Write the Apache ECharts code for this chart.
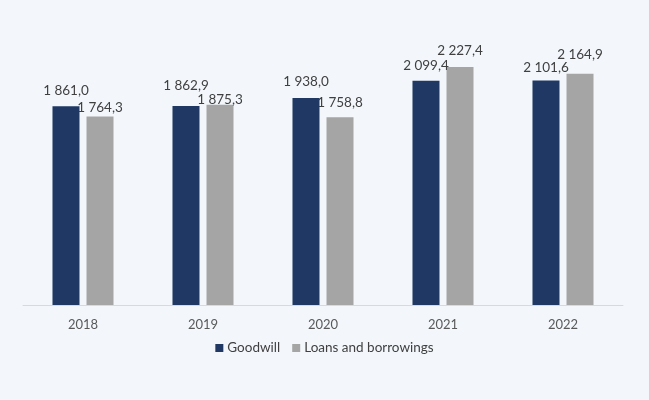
<!DOCTYPE html>
<html><head><meta charset="utf-8">
<script src="https://cdn.jsdelivr.net/npm/echarts@6/dist/echarts.min.js"></script>
<style>html,body{margin:0;padding:0;background:#f3f7fb;}#c{width:649px;height:400px;}</style>
</head><body><div id="c"></div>
<script>
var categories = ['2018','2019','2020','2021','2022'];
var goodwill = [1861.0, 1862.9, 1938.0, 2099.4, 2101.6];
var loans = [1764.3, 1875.3, 1758.8, 2227.4, 2164.9];
var seriesNames = ['Goodwill','Loans and borrowings'];
function fmt(v){
  var s = v.toFixed(1).replace('.', ',');
  var parts = s.split(',');
  var ip = parts[0].replace(/\B(?=(\d{3})+(?!\d))/g, ' ');
  return ip + ',' + parts[1];
}
// manual vertical nudges of labels (style only), per series
var labelNudge = [[-1, -5, -1, 0, 2], [6, 10, 0, -1, -4]];
var font = 'Lato, Noto Sans, sans-serif';
var chart = echarts.init(document.getElementById('c'));
chart.setOption({
  backgroundColor: '#f3f7fb',
  animation: false,
  grid: {left: 23, right: 26, top: 38, bottom: 95},
  xAxis: {type: 'category', data: categories,
    axisLine: {lineStyle: {color: '#d9d9d9'}}, axisTick: {show: false},
    axisLabel: {color: '#595959', fontSize: 13, fontFamily: font, margin: 13}},
  yAxis: {type: 'value', min: 0, max: 2500, show: false, splitLine: {show: false}},
  legend: {bottom: 40, left: 'center', itemWidth: 8, itemHeight: 8, itemGap: 12, icon: 'rect',
    textStyle: {color: '#404040', fontSize: 13.5, fontFamily: font, padding: [0, 0, 0, -1]}},
  labelLayout: function(p){
    return {dy: labelNudge[p.seriesIndex][p.dataIndex]};
  },
  series: [
    {name: seriesNames[0], type: 'bar', data: goodwill, barWidth: 27, barGap: '26%',
     itemStyle: {color: '#1f3864'},
     label: {show: true, position: 'top', distance: 8, color: '#404040', fontSize: 13.5, fontFamily: font,
       formatter: function(p){return fmt(p.value);}}},
    {name: seriesNames[1], type: 'bar', data: loans, barWidth: 27,
     itemStyle: {color: '#a5a5a5'},
     label: {show: true, position: 'top', distance: 8, color: '#404040', fontSize: 13.5, fontFamily: font,
       formatter: function(p){return fmt(p.value);}}}
  ]
});
</script></body></html>
